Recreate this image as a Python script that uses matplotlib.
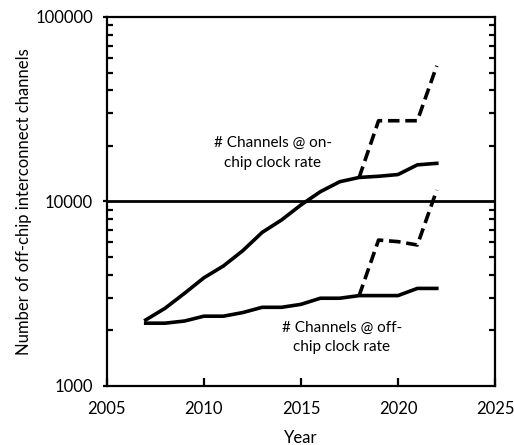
import matplotlib
matplotlib.use("Agg")
import matplotlib.pyplot as plt
from matplotlib.ticker import LogLocator, FixedLocator, NullFormatter

plt.rcParams['font.family'] = ['Lato', 'DejaVu Sans']

years = [2007, 2008, 2009, 2010, 2011, 2012, 2013, 2014, 2015, 2016,
         2017, 2018, 2019, 2020, 2021, 2022]
on_chip = [2280, 2640, 3180, 3860, 4470, 5410, 6800, 7940, 9580, 11300,
           12800, 13500, 13700, 14000, 15800, 16100]
off_chip = [2190, 2190, 2250, 2390, 2390, 2500, 2670, 2670, 2770, 2990,
            2990, 3090, 3090, 3090, 3380, 3380]

proj_years = [2018, 2019, 2020, 2021, 2022]
on_chip_proj = [13500, 27400, 27400, 27400, 54400]
off_chip_proj = [3090, 6180, 6060, 5810, 11540]

ref_level = 10000
x_ticks = [2005, 2010, 2015, 2020, 2025]
y_ticks = [1000, 10000, 100000]
y_tick_labels = ["1000", "10000", "100000"]

fig = plt.figure(figsize=(5.14, 4.45), dpi=100)
ax = fig.add_axes([0.208, 0.1326, 0.755, 0.8292])

lw = 2.6
ax.plot(years, on_chip, color='black', lw=lw, solid_joinstyle='round')
ax.plot(years, off_chip, color='black', lw=lw, solid_joinstyle='round')
ax.plot(proj_years, on_chip_proj, color='black', lw=lw, ls=(0, (3.2, 1.6)))
ax.plot(proj_years, off_chip_proj, color='black', lw=lw, ls=(0, (3.2, 1.6)))
ax.axhline(ref_level, color='black', lw=2.0)

ax.set_yscale('log')
ax.set_xlim(2005, 2025)
ax.set_ylim(1000, 100000)
ax.xaxis.set_major_locator(FixedLocator(x_ticks))
ax.yaxis.set_major_locator(FixedLocator(y_ticks))
ax.set_yticklabels(y_tick_labels)
ax.yaxis.set_minor_locator(LogLocator(base=10, subs=range(2, 10)))
ax.yaxis.set_minor_formatter(NullFormatter())

for s in ax.spines.values():
    s.set_linewidth(1.6)

ax.tick_params(axis='x', direction='in', length=6, width=1.6, labelsize=12, pad=11)
ax.tick_params(axis='y', which='major', direction='out', left=True, right=False,
               length=3, width=1.6, labelsize=12, pad=7)
ax.tick_params(axis='y', which='minor', direction='in', left=True, right=True,
               length=4, width=1.6)

ax.set_xlabel("Year", fontsize=12, labelpad=9)
ax.set_ylabel("Number of off-chip interconnect channels", fontsize=12, labelpad=2)

ax.text(2013.55, 18300, "# Channels @ on-\nchip clock rate", ha='center', va='center',
        fontsize=11, linespacing=1.5)
ax.text(2017.1, 1832, "# Channels @ off-\nchip clock rate", ha='center', va='center',
        fontsize=11, linespacing=1.5)

fig.savefig("out.png", dpi=100)
